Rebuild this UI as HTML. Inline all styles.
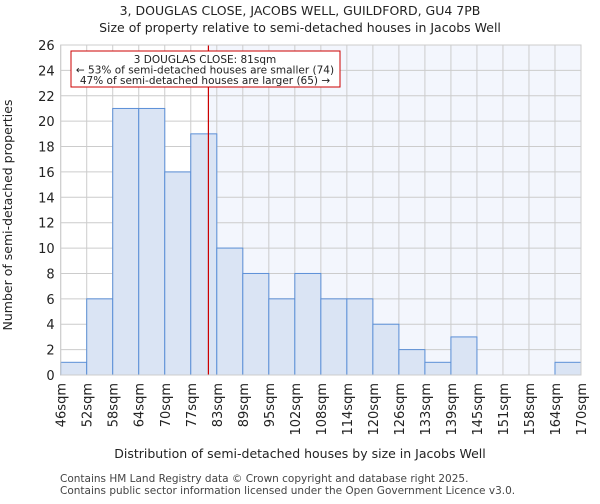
<!DOCTYPE html>
<html><head><meta charset="utf-8"><style>
body{margin:0;background:#fff;font-family:"DejaVu Sans","Liberation Sans",sans-serif;}
svg text{font-family:"DejaVu Sans","Liberation Sans",sans-serif;}
</style></head><body>
<svg id="c" width="600" height="500" xmlns="http://www.w3.org/2000/svg">
<text x="300" y="15" text-anchor="middle" font-size="12.5" fill="#222">3, DOUGLAS CLOSE, JACOBS WELL, GUILDFORD, GU4 7PB</text>
<text x="300" y="32" text-anchor="middle" font-size="12.5" fill="#222">Size of property relative to semi-detached houses in Jacobs Well</text>
<g id="plot"></g>
<text x="300" y="458" text-anchor="middle" font-size="12.5" fill="#222">Distribution of semi-detached houses by size in Jacobs Well</text>
<text x="12" y="215" text-anchor="middle" font-size="12.5" fill="#222" transform="rotate(-90 12 215)">Number of semi-detached properties</text>
<text x="60" y="482" font-size="10.5" fill="#444">Contains HM Land Registry data © Crown copyright and database right 2025.</text>
<text x="60" y="494" font-size="10.5" fill="#444">Contains public sector information licensed under the Open Government Licence v3.0.</text>
</svg>
<script>
const labels=["46sqm","52sqm","58sqm","64sqm","70sqm","77sqm","83sqm","89sqm","95sqm","102sqm","108sqm","114sqm","120sqm","126sqm","133sqm","139sqm","145sqm","151sqm","158sqm","164sqm","170sqm"];
const edgeValues=[45.8,52,58.2,64.4,70.6,76.8,83,89.2,95.4,101.6,107.8,114,120.2,126.4,132.6,138.8,145,151.2,157.4,163.6,169.8];
const counts=[1,6,21,21,16,19,10,8,6,8,6,6,4,2,1,3,0,0,0,1];
const yTicks=[0,2,4,6,8,10,12,14,16,18,20,22,24,26];
const propertySize=81;
const NS="http://www.w3.org/2000/svg";
const L=60.7,R=581,T=45,B=375,yMax=26;
const bw=(R-L)/counts.length;
const xs=i=>L+i*bw;
const ys=v=>B-(v/yMax)*(B-T);
function xVal(v){for(let i=0;i<edgeValues.length-1;i++){if(v>=edgeValues[i]&&v<=edgeValues[i+1])return xs(i+(v-edgeValues[i])/(edgeValues[i+1]-edgeValues[i]));}return R;}
const g=document.getElementById('plot');
function mk(t,a){const e=document.createElementNS(NS,t);for(const k in a)e.setAttribute(k,a[k]);g.appendChild(e);return e;}
const px=xVal(propertySize);
let e=mk('rect',{x:px,y:T,width:R-px,height:B-T,fill:'#f3f6fd'});


yTicks.forEach(t=>{const l=mk('line',{x1:L,x2:R,y1:ys(t),y2:ys(t),stroke:'#cccccc','stroke-width':1});


const tx=mk('text',{x:L-6,y:ys(t)+5,'text-anchor':'end','font-size':13,fill:'#222'});tx.textContent=t;

});
labels.forEach((s,i)=>{const x=xs(i);const l=mk('line',{x1:x,x2:x,y1:T,y2:B,stroke:'#cccccc','stroke-width':1});


const tx=mk('text',{x:x+5,y:B+8,'text-anchor':'end','font-size':13,fill:'#222',transform:`rotate(-90 ${x+5} ${B+8})`});tx.textContent=s;

});
counts.forEach((v,i)=>{const r=mk('rect',{x:xs(i),y:ys(v),width:bw,height:B-ys(v),fill:'#dae4f4',stroke:'#5b8fd6','stroke-width':1});

});
e=mk('line',{x1:px,x2:px,y1:T,y2:B,stroke:'#cc0000','stroke-width':1.2});


e=mk('rect',{x:71,y:51,width:269,height:36,fill:'#fff',stroke:'#cc0000','stroke-width':1});


["3 DOUGLAS CLOSE: 81sqm","← 53% of semi-detached houses are smaller (74)","47% of semi-detached houses are larger (65) →"].forEach((s,i)=>{const t=mk('text',{x:205,y:63+i*10.5,'text-anchor':'middle','font-size':10.5,fill:'#222'});t.textContent=s;

});
e=mk('rect',{x:L,y:T,width:R-L,height:B-T,fill:'none',stroke:'#cccccc'});


</script>
</body></html>
